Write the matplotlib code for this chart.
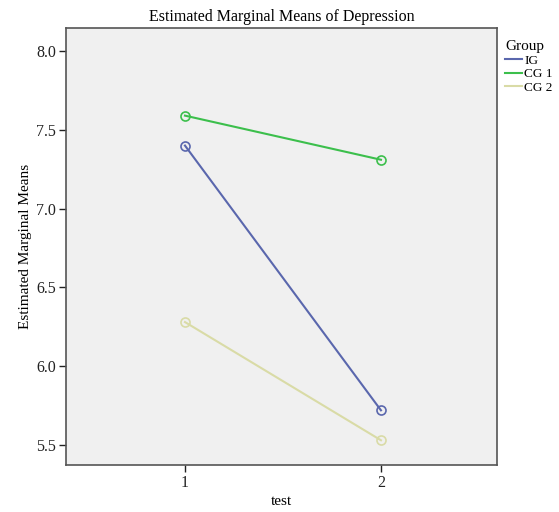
import matplotlib
matplotlib.use('Agg')
import matplotlib.pyplot as plt
from matplotlib.lines import Line2D

test = [1, 2]
groups = ['IG', 'CG 1', 'CG 2']
ig = [7.40, 5.72]
cg1 = [7.59, 7.31]
cg2 = [6.28, 5.53]
colors = ['#5a67ad', '#3cbf4c', '#d9dba6']

plt.rcParams['font.family'] = ['Liberation Serif', 'DejaVu Serif']

fig = plt.figure(figsize=(5.59, 5.12), dpi=100)
ax = fig.add_axes([66/559, 1 - 465/512, (497-66)/559, (465-28)/512])
ax.set_facecolor('#f0f0f0')

for vals, name, c in zip([ig, cg1, cg2], groups, colors):
    ax.plot(test, vals, color=c, lw=1.5, marker='o', ms=6.5,
            mfc='none', mec=c, mew=1.2, label=name)

ax.set_xlim(0.393, 2.592)
ax.set_ylim(5.373, 8.146)
ax.set_xticks(test)
ax.set_xticklabels(['1', '2'])
ax.set_yticks([5.5, 6.0, 6.5, 7.0, 7.5, 8.0])
ax.set_yticklabels(['5.5', '6.0', '6.5', '7.0', '7.5', '8.0'])
ax.tick_params(labelsize=11.5, colors='#222222', length=5, width=1, pad=2)
for s in ax.spines.values():
    s.set_color('#555555')
    s.set_linewidth(1.2)

ax.set_title('Estimated Marginal Means of Depression', fontsize=11.5, pad=5)
ax.set_xlabel('test', fontsize=11, labelpad=3)
ax.set_ylabel('Estimated Marginal Means', fontsize=11, labelpad=3)

handles = [Line2D([], [], color=c, lw=1.5) for c in colors]
leg = ax.legend(handles, groups, title='Group', loc='upper left',
                bbox_to_anchor=(1.0, 0.99), frameon=False, fontsize=9.5,
                title_fontsize=11, handlelength=1.3, handletextpad=0.15,
                labelspacing=0.1, borderaxespad=0.3, borderpad=0.3)
leg._legend_box.align = 'left'

fig.savefig('out.png', dpi=100)
